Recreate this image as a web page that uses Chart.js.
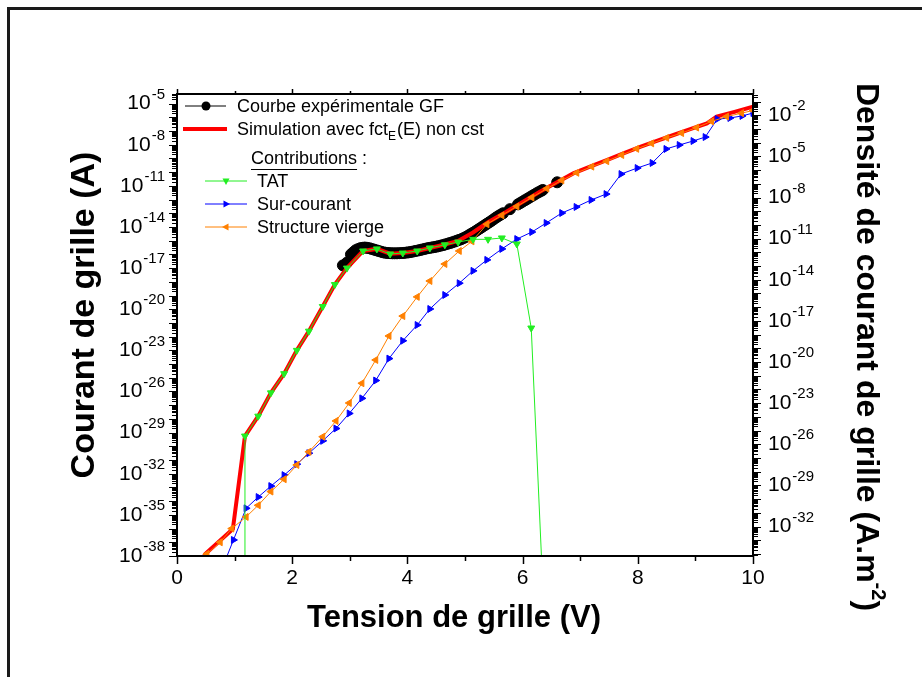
<!DOCTYPE html>
<html><head><meta charset="utf-8">
<script src="https://cdn.jsdelivr.net/npm/chart.js@4/dist/chart.umd.min.js"></script>
<style>
html,body{margin:0;padding:0;background:#fff;overflow:hidden}
#wrap{position:relative;width:922px;height:677px}
#frame{position:absolute;left:7px;top:7px;width:940px;height:700px;border-left:3px solid #1a1a1a;border-top:3px solid #1a1a1a;box-sizing:border-box}
canvas{position:absolute;left:0;top:0}
</style></head><body>
<div id="wrap"><div id="frame"></div><canvas id="c" width="922" height="677"></canvas></div>
<script>
// ---- data (x = gate voltage V, y = log10 of gate current in A) ----
const expV   = [2.88,2.95,3.02,3.06,3.10,3.14,3.18,3.22,3.26,3.30,3.34,3.38,3.42,3.46,3.50,3.54,3.58,3.62,3.66,3.70,3.74,3.78,3.82,3.86,3.90,3.94,3.98,4.02,4.06,4.10,4.14,4.18,4.22,4.26,4.30,4.34,4.38,4.42,4.46,4.50,4.54,4.58,4.62,4.66,4.70,4.74,4.78,4.82,4.86,4.90,4.94,4.98,5.02,5.06,5.10,5.14,5.18,5.22,5.26,5.30,5.34,5.38,5.42,5.46,5.50,5.54,5.58,5.62,5.66,5.78,5.92,5.96,6.00,6.04,6.08,6.12,6.16,6.20,6.24,6.28,6.32,6.35,6.60];
const expLogI= [-16.8,-16.6,-16.0,-15.85,-15.7,-15.62,-15.55,-15.52,-15.5,-15.52,-15.55,-15.6,-15.65,-15.7,-15.75,-15.8,-15.85,-15.88,-15.9,-15.91,-15.92,-15.92,-15.92,-15.91,-15.9,-15.89,-15.87,-15.85,-15.82,-15.79,-15.75,-15.72,-15.68,-15.64,-15.6,-15.56,-15.53,-15.5,-15.47,-15.44,-15.4,-15.36,-15.32,-15.27,-15.22,-15.17,-15.12,-15.06,-15.0,-14.94,-14.88,-14.8,-14.72,-14.62,-14.52,-14.42,-14.32,-14.21,-14.1,-13.99,-13.88,-13.77,-13.66,-13.55,-13.43,-13.31,-13.2,-13.1,-13.0,-12.7,-12.35,-12.25,-12.15,-12.05,-11.95,-11.85,-11.75,-11.65,-11.55,-11.46,-11.37,-11.3,-10.74];

const simV   = [0.42,0.49,0.97,1.18,1.41,1.63,1.86,2.08,2.29,2.53,2.74,2.95,3.23,3.47,3.70,3.92,4.17,4.39,4.65,4.88,5.14,5.40,5.72,6.01,6.30,6.59,6.88,7.17,7.46,7.75,8.04,8.33,8.62,8.91,9.20,9.37,9.68,10.0];
const simLogI= [-38.4,-37.85,-36.03,-29.25,-27.8,-26.1,-24.7,-23.0,-21.6,-19.8,-18.2,-17.0,-15.75,-15.6,-15.95,-15.9,-15.75,-15.53,-15.28,-15.02,-14.4,-13.65,-12.89,-12.15,-11.43,-10.75,-10.09,-9.6,-9.12,-8.63,-8.15,-7.72,-7.29,-6.87,-6.44,-5.95,-5.6,-5.23];

const tatV   = [1.17,1.18,1.41,1.63,1.86,2.08,2.29,2.53,2.74,2.95,3.23,3.47,3.70,3.92,4.17,4.39,4.65,4.88,5.14,5.40,5.64,5.90,6.15,6.33];
const tatLogI= [-60,-29.25,-27.8,-26.1,-24.7,-23.0,-21.6,-19.8,-18.2,-17.0,-15.75,-15.6,-15.97,-15.9,-15.75,-15.53,-15.3,-15.1,-14.9,-14.9,-14.8,-15.24,-21.37,-38.3];

const surV   = [0.85,0.98,1.20,1.41,1.63,1.86,2.08,2.29,2.53,2.76,2.99,3.21,3.45,3.68,3.92,4.17,4.39,4.65,4.90,5.14,5.38,5.64,5.90,6.16,6.41,6.68,6.93,7.19,7.45,7.71,7.99,8.25,8.49,8.72,8.96,9.17,9.38,9.60,9.81,10.0];
const surLogI= [-38.2,-36.83,-34.52,-33.7,-32.9,-32.1,-31.3,-30.5,-29.6,-28.7,-27.6,-26.5,-25.2,-23.6,-22.3,-21.15,-19.98,-18.96,-18.1,-17.2,-16.4,-15.6,-14.88,-14.37,-13.71,-12.98,-12.54,-12.03,-11.6,-10.14,-9.7,-9.33,-8.31,-8.02,-7.73,-7.44,-6.13,-6.05,-5.9,-5.69];

const vierV   = [0.52,0.75,0.95,1.20,1.41,1.63,1.86,2.08,2.29,2.53,2.76,2.99,3.21,3.45,3.68,3.92,4.17,4.39,4.65,4.90,5.12,5.38,5.64,5.90,6.16,6.42,6.68,6.94,7.20,7.46,7.72,7.98,8.24,8.50,8.76,9.02,9.28,9.54,9.80,10.0];
const vierLogI= [-37.85,-37.0,-36.0,-35.15,-34.3,-33.3,-32.4,-31.36,-30.4,-29.3,-28.15,-26.84,-25.4,-23.7,-21.95,-20.5,-19.1,-17.94,-16.7,-15.75,-15.05,-13.8,-13.15,-12.5,-11.85,-11.2,-10.6,-10.05,-9.6,-9.2,-8.75,-8.3,-7.9,-7.5,-7.15,-6.75,-6.3,-5.95,-5.7,-5.5];

// ---- axes / labels ----
const xTickLabels = [0,2,4,6,8,10];
const leftTickExp = [-5,-8,-11,-14,-17,-20,-23,-26,-29,-32,-35,-38];
const rightTickExp = [-2,-5,-8,-11,-14,-17,-20,-23,-26,-29,-32];
const leftMinExp = -38, leftMaxExp = -4.3;
const densityOffset = 3.85;   // log10(J) = log10(I) + offset
const legendLabels = ['Courbe expérimentale GF','Simulation avec fct','TAT','Sur-courant','Structure vierge'];

const toPts = (xs, ls) => xs.map((v,i)=>({x:v, y:Math.pow(10, ls[i])}));
const FONT = '"Liberation Sans", Arial, sans-serif';

function drawPow(ctx, x, y, exp, align, bs, es){
  ctx.font = bs+'px '+FONT; const wb = ctx.measureText('10').width;
  ctx.font = es+'px '+FONT; const we = ctx.measureText(String(exp)).width;
  let sx = align==='right' ? x - wb - we - 1 : x;
  ctx.textAlign='left'; ctx.textBaseline='middle';
  ctx.font = bs+'px '+FONT; ctx.fillText('10', sx, y);
  ctx.font = es+'px '+FONT; ctx.fillText(String(exp), sx+wb+1, y-9);
}

const deco = {
  id:'deco',
  afterDraw(chart){
    const ctx = chart.ctx; const a = chart.chartArea;
    const xs = chart.scales.x, ys = chart.scales.y, y2 = chart.scales.y2;
    ctx.save();
    ctx.strokeStyle='#000'; ctx.fillStyle='#000';
    ctx.lineWidth=2; ctx.strokeRect(a.left, a.top, a.right-a.left, a.bottom-a.top);
    ctx.lineWidth=1.5;
    for(let v=0; v<=10; v++){
      const px = Math.round(xs.getPixelForValue(v))+0.5;
      const len = v%2===0 ? 8 : 5;
      ctx.beginPath(); ctx.moveTo(px,a.bottom); ctx.lineTo(px,a.bottom+len); ctx.stroke();
      ctx.beginPath(); ctx.moveTo(px,a.top); ctx.lineTo(px,a.top-(v%2===0?5:3)); ctx.stroke();
    }
    ctx.lineWidth=1;
    function logTicks(scale, xEdge, dir){
      const lo = Math.floor(Math.log10(scale.min)), hi = Math.ceil(Math.log10(scale.max));
      for(let d=lo; d<=hi; d++){
        for(let k=1;k<=9;k++){
          const val = k*Math.pow(10,d);
          if(val<scale.min*0.9999 || val>scale.max*1.0001) continue;
          const py = Math.round(scale.getPixelForValue(val))+0.5;
          const len = k===1 ? 8 : 5;
          ctx.beginPath(); ctx.moveTo(xEdge,py); ctx.lineTo(xEdge+dir*len,py); ctx.stroke();
        }
      }
    }
    logTicks(ys, a.left, -1);
    logTicks(y2, a.right, 1);
    ctx.fillStyle='#000';
    ctx.font='21px '+FONT; ctx.textAlign='center'; ctx.textBaseline='middle';
    xTickLabels.forEach(v=>ctx.fillText(String(v), xs.getPixelForValue(v), 578));
    leftTickExp.forEach(e=>drawPow(ctx, a.left-12, ys.getPixelForValue(Math.pow(10,e)), e, 'right', 21, 15));
    rightTickExp.forEach(e=>drawPow(ctx, a.right+15, y2.getPixelForValue(Math.pow(10,e)), e, 'left', 21, 15));
    ctx.font='bold 31px '+FONT; ctx.textAlign='center'; ctx.textBaseline='middle';
    ctx.fillText('Tension de grille (V)', 454, 618);
    ctx.save(); ctx.translate(85,315); ctx.rotate(-Math.PI/2);
    ctx.font='bold 34px '+FONT; ctx.fillText('Courant de grille (A)',0,0); ctx.restore();
    ctx.save(); ctx.translate(866,347); ctx.rotate(Math.PI/2);
    const t1='Densité de courant de grille (A.m', t2='-2', t3=')';
    ctx.font='bold 32px '+FONT; const w1=ctx.measureText(t1).width, w3=ctx.measureText(t3).width;
    ctx.font='bold 20px '+FONT; const w2=ctx.measureText(t2).width;
    let sx=-(w1+w2+w3)/2; ctx.textAlign='left';
    ctx.font='bold 32px '+FONT; ctx.fillText(t1,sx,0);
    ctx.font='bold 20px '+FONT; ctx.fillText(t2,sx+w1,-12);
    ctx.font='bold 32px '+FONT; ctx.fillText(t3,sx+w1+w2,0);
    ctx.restore();
    ctx.textAlign='left'; ctx.textBaseline='middle';
    const LF='18px '+FONT;
    ctx.strokeStyle='#000'; ctx.lineWidth=1;
    ctx.beginPath(); ctx.moveTo(185,106); ctx.lineTo(226,106); ctx.stroke();
    ctx.beginPath(); ctx.arc(206,106,4.5,0,Math.PI*2); ctx.fill();
    ctx.font=LF; ctx.fillText(legendLabels[0], 237, 107);
    ctx.strokeStyle='#ff0000'; ctx.lineWidth=4;
    ctx.beginPath(); ctx.moveTo(183,129); ctx.lineTo(227,129); ctx.stroke();
    ctx.font=LF; ctx.fillText(legendLabels[1], 237, 130);
    let w = ctx.measureText(legendLabels[1]).width;
    ctx.font='12px '+FONT; ctx.fillText('E', 237+w, 137);
    let we = ctx.measureText('E').width;
    ctx.font=LF; ctx.fillText('(E) non cst', 237+w+we+1, 130);
    ctx.fillText('Contributions', 251, 159);
    const wc = ctx.measureText('Contributions').width;
    ctx.lineWidth=1; ctx.strokeStyle='#000';
    ctx.beginPath(); ctx.moveTo(251,169.5); ctx.lineTo(251+wc,169.5); ctx.stroke();
    ctx.fillText(' :', 251+wc, 159);
    const rows=[[legendLabels[2],'#22ee22',181,180],[legendLabels[3],'#0000ff',204,90],[legendLabels[4],'#ff8000',227,270]];
    rows.forEach(([lab,col,y,rot])=>{
      ctx.strokeStyle=col; ctx.fillStyle=col; ctx.lineWidth=1;
      ctx.beginPath(); ctx.moveTo(205,y); ctx.lineTo(247,y); ctx.stroke();
      ctx.save(); ctx.translate(226,y); ctx.rotate(rot*Math.PI/180);
      ctx.beginPath(); ctx.moveTo(0,-4); ctx.lineTo(3.5,2.5); ctx.lineTo(-3.5,2.5); ctx.closePath(); ctx.fill();
      ctx.restore();
      ctx.fillStyle='#000'; ctx.font=LF; ctx.fillText(lab, 257, y+1);
    });
    ctx.restore();
  }
};

new Chart(document.getElementById('c'), {
  type:'line',
  data:{datasets:[
    {label:'TAT', data:toPts(tatV,tatLogI), borderColor:'#22ee22', backgroundColor:'#22ee22', borderWidth:1, pointStyle:'triangle', rotation:180, pointRadius:4, order:0},
    {label:'Structure vierge', data:toPts(vierV,vierLogI), borderColor:'#ff8000', backgroundColor:'#ff8000', borderWidth:1, pointStyle:'triangle', rotation:270, pointRadius:4, order:1},
    {label:'Sur-courant', data:toPts(surV,surLogI), borderColor:'#0000ff', backgroundColor:'#0000ff', borderWidth:1, pointStyle:'triangle', rotation:90, pointRadius:4, order:2},
    {label:'Simulation', data:toPts(simV,simLogI), borderColor:'#ff0000', borderWidth:4, pointRadius:0, order:3},
    {label:'Courbe expérimentale GF', data:toPts(expV,expLogI), borderColor:'#000', backgroundColor:'#000', borderWidth:1, pointRadius:5.5, order:4}
  ]},
  options:{
    responsive:false, animation:false, devicePixelRatio:1,
    layout:{padding:{top:94,left:0,right:0,bottom:0}},
    plugins:{legend:{display:false}, tooltip:{enabled:false}},
    elements:{line:{tension:0}, point:{borderWidth:0}},
    scales:{
      x:{type:'linear', min:0, max:10, ticks:{display:false}, grid:{display:false}, border:{display:false}, afterFit(s){s.height=121;}},
      y:{type:'logarithmic', position:'left', min:Math.pow(10,leftMinExp), max:Math.pow(10,leftMaxExp), ticks:{display:false}, grid:{display:false}, border:{display:false}, afterFit(s){s.width=177;}},
      y2:{type:'logarithmic', position:'right', min:Math.pow(10,leftMinExp+densityOffset), max:Math.pow(10,leftMaxExp+densityOffset), ticks:{display:false}, grid:{display:false}, border:{display:false}, afterFit(s){s.width=169;}}
    }
  },
  plugins:[deco]
});
</script>
</body></html>
